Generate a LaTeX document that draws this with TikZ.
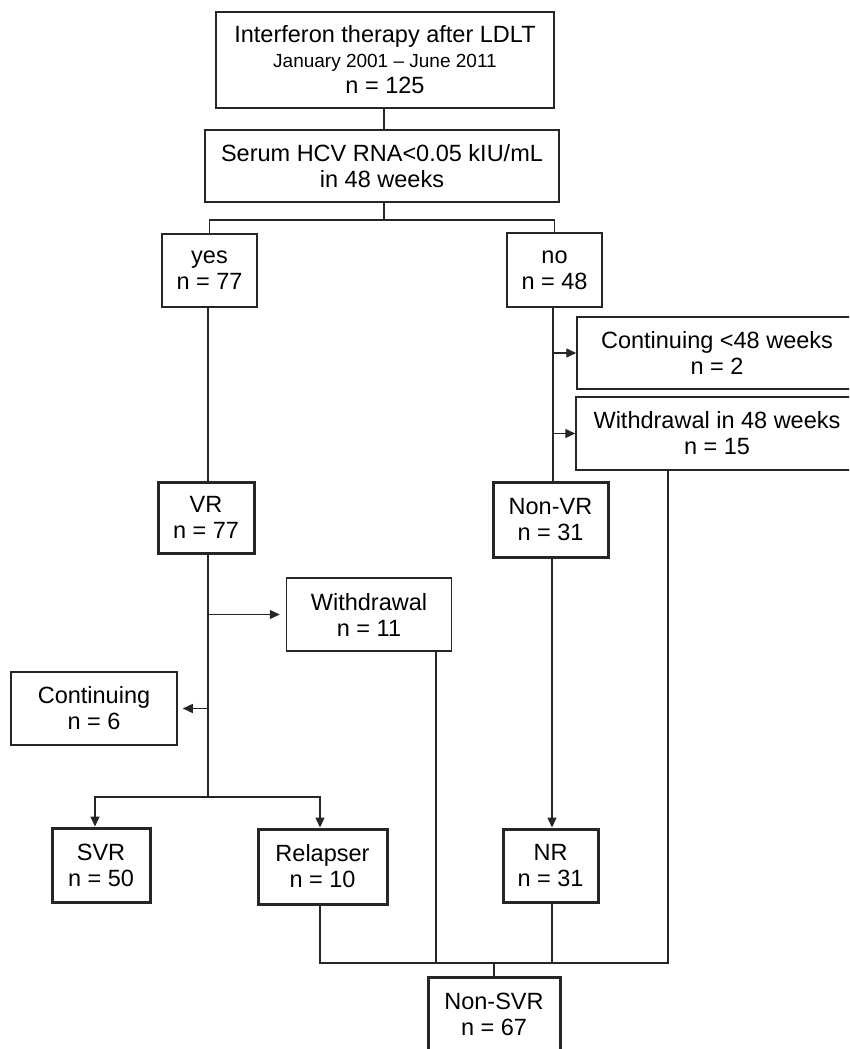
\documentclass[tikz,border=0pt]{standalone}
\usepackage{fontspec}
\setmainfont{Liberation Sans}
\usetikzlibrary{arrows.meta,calc}
\begin{document}
\begin{tikzpicture}[x=1pt,y=-1pt,
  txt/.style={font=\fontsize{23.5}{26}\selectfont, align=center, inner sep=0pt},
  thinbox/.style={txt, draw=black!85, line width=1.5pt},
  thickbox/.style={txt, draw=black!85, line width=3pt},
  conn/.style={draw=black!85, line width=1.4pt},
  arr/.style={conn, -{Triangle[length=10pt,width=9pt]}}]
\useasboundingbox (0,0) rectangle (849,1049);
\clip (0,0) rectangle (849,1049);
% boxes
\node[thinbox, minimum width=338pt, minimum height=96pt] (top) at (385,60)
  {Interferon therapy after LDLT\\[-1pt]{\fontsize{19}{22}\selectfont January 2001 -- June 2011}\\n = 125};
\node[thinbox, minimum width=354pt, minimum height=72pt] (serum) at (382,166)
  {Serum HCV RNA<0.05 kIU/mL\\in 48 weeks};
\node[thinbox, minimum width=95pt, minimum height=73pt] (yes) at (209.5,270.5) {yes\\n = 77};
\node[thinbox, minimum width=95pt, minimum height=74pt] (no) at (554.5,270) {no\\n = 48};
\node[thinbox, minimum width=280pt, minimum height=72pt] (cont48) at (717,353) {Continuing <48 weeks\\n = 2};
\node[thinbox, minimum width=282pt, minimum height=73pt] (with48) at (717,433.5) {Withdrawal in 48 weeks\\n = 15};
\node[thickbox, minimum width=96pt, minimum height=71pt] (VR) at (206,517.5) {VR\\n = 77};
\node[thickbox, minimum width=115pt, minimum height=75pt] (NonVR) at (550.5,519.5) {Non-VR\\n = 31};
\node[thinbox, minimum width=165pt, minimum height=73pt] (withdrawal) at (369,614.5) {Withdrawal\\n = 11};
\node[thinbox, minimum width=166pt, minimum height=73pt] (continuing) at (94,708.5) {Continuing\\n = 6};
\node[thickbox, minimum width=98pt, minimum height=74pt] (SVR) at (101,865) {SVR\\n = 50};
\node[thickbox, minimum width=129pt, minimum height=75pt] (relapser) at (322.5,866.5) {Relapser\\n = 10};
\node[thickbox, minimum width=95pt, minimum height=73pt] (NR) at (550.5,865.5) {NR\\n = 31};
\node[thickbox, minimum width=132pt, minimum height=75pt] (nonsvr) at (494,1014.5) {Non-SVR\\n = 67};
% coordinates
\coordinate (split) at (384,220);
\coordinate (vl) at (208,797);
\coordinate (nl) at (553,0);
\coordinate (wl) at (436,0);
\coordinate (w48l) at (668,0);
\coordinate (bj) at (494,963);
% connectors
\draw[conn] (top.south -| split) -- (split |- serum.north);
\draw[conn] (split |- serum.south) -- (split);
\draw[conn] (yes.north) |- (split) -| (no.north);
\draw[conn] (yes.south -| vl) -- (vl |- VR.north);
\draw[conn] (VR.south -| vl) -- (vl);
\draw[arr, shorten >=6pt] (vl |- withdrawal.west) -- (withdrawal.west);
\draw[arr, shorten >=5pt] (vl |- continuing.east) -- (continuing.east);
\draw[arr] (vl) -| (SVR.north -| 95,0);
\draw[arr] (vl) -| (relapser.north -| 320,0);
\draw[conn] (no.south -| nl) -- (nl |- NonVR.north);
\draw[arr] (nl |- cont48.west) -- (cont48.west);
\draw[arr] (nl |- with48.west) -- (with48.west);
\draw[arr] (NonVR.south -| 552,0) -- (NR.north -| 552,0);
\draw[conn] (relapser.south -| 320,0) |- (bj);
\draw[conn] (with48.south -| w48l) |- (bj);
\draw[conn] (withdrawal.south -| wl) -- (wl |- bj);
\draw[conn] (NR.south -| 552,0) -- (bj -| 552,0);
\draw[conn] (bj) -- (nonsvr.north);
\end{tikzpicture}
\end{document}
